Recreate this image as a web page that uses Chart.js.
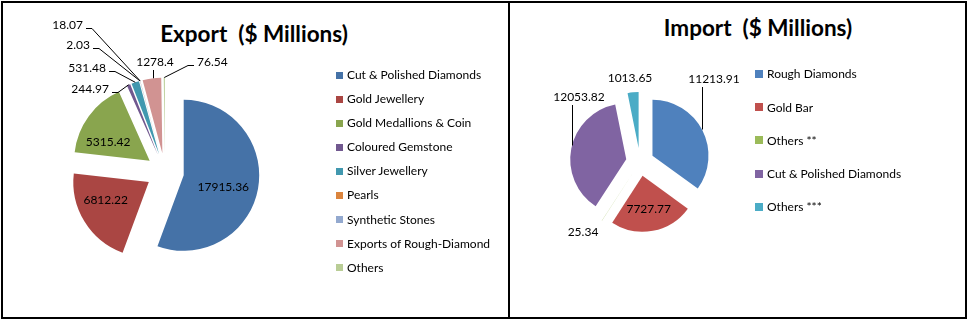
<!DOCTYPE html>
<html>
<head>
<meta charset="utf-8">
<script src="https://cdn.jsdelivr.net/npm/chart.js@4.4.0/dist/chart.umd.min.js"></script>
<style>
  body { margin: 0; width: 969px; height: 322px; position: relative; background: #fff; overflow: hidden;
         font-family: Lato, "Open Sans", sans-serif; color: #000; }
  .panel { position: absolute; top: 1px; height: 318px; border: 2px solid #000; box-sizing: border-box; }
  .wrap { position: absolute; top: 0; height: 320px; }
  .title { position: absolute; font-size: 22.5px; font-weight: bold; white-space: pre; transform: translate(-50%, -50%); }
  .legend { position: absolute; font-size: 12px; }
  .legend .item { display: flex; align-items: center; white-space: pre; }
  .legend .sw { display: inline-block; margin-right: 4px; }
</style>
</head>
<body>
<div class="panel" style="left:1px; width:509px;"></div>
<div class="panel" style="left:508px; width:459px;"></div>

<div class="title" style="left:254px; top:33px;">Export  ($ Millions)</div>
<div class="title" style="left:758px; top:27px;">Import  ($ Millions)</div>

<div class="wrap" style="left:0; width:509px;"><canvas id="export-pie"></canvas></div>
<div class="wrap" style="left:509px; width:458px;"><canvas id="import-pie"></canvas></div>

<div class="legend" id="export-legend" style="left:336px; top:63px; line-height:24.1px;"></div>
<div class="legend" id="import-legend" style="left:755px; top:57.4px; line-height:33.2px;"></div>

<script>
// --- DATA ---
const exportLabels = [
  "Cut & Polished Diamonds", "Gold Jewellery", "Gold Medallions & Coin", "Coloured Gemstone",
  "Silver Jewellery", "Pearls", "Synthetic Stones", "Exports of Rough-Diamond", "Others"
];
const exportValues = [17915.36, 6812.22, 5315.42, 244.97, 531.48, 2.03, 18.07, 1278.4, 76.54];
const exportColors = ["#4572A7", "#AA4643", "#89A54E", "#71588F", "#4198AF", "#DB843D", "#93A9CF", "#D19392", "#B9CD96"];

const importLabels = ["Rough Diamonds", "Gold Bar", "Others **", "Cut & Polished Diamonds", "Others ***"];
const importValues = [11213.91, 7727.77, 25.34, 12053.82, 1013.65];
const importColors = ["#4F81BD", "#C0504D", "#9BBB59", "#8064A2", "#4BACC6"];

// --- LABEL PLACEMENT (canvas coords) ---
const exportPlacements = [
  { inside: true, dx: -5, dy: 4 },
  { inside: true, dx: -4.5, dy: -6 },
  { inside: true, dx: -5, dy: 8 },
  { x: 109, y: 89, align: "right", leader: "elbow" },
  { x: 106, y: 68, align: "right", leader: "elbow" },
  { x: 90, y: 45, align: "right", leader: "elbow" },
  { x: 83, y: 25, align: "right", leader: "elbow" },
  { x: 155, y: 62, align: "center", leader: "vertical", lineX: 153 },
  { x: 197, y: 62, align: "left", leader: "elbow" }
];
const importPlacements = [
  { x: 205, y: 79, align: "center", leader: "vertical", lineX: 193 },
  { inside: true, dx: 0, dy: 0 },
  { x: 74, y: 232, align: "center" },
  { x: 70, y: 97, align: "center", leader: "vertical", lineX: 63 },
  { x: 121, y: 78, align: "center" }
];

// --- PLUGINS ---
// pulls every slice away from the pie centre along its mid angle
const explodePlugin = {
  id: "explode",
  beforeDatasetsDraw(chart, args, opts) {
    const { chartArea } = chart;
    const cx = (chartArea.left + chartArea.right) / 2;
    const cy = (chartArea.top + chartArea.bottom) / 2;
    chart.getDatasetMeta(0).data.forEach(arc => {
      const mid = (arc.startAngle + arc.endAngle) / 2;
      arc.x = cx + opts.distance * Math.cos(mid);
      arc.y = cy + opts.distance * Math.sin(mid);
    });
  }
};

// value labels, inside the big slices or outside with leader lines
const sliceLabelsPlugin = {
  id: "sliceLabels",
  afterDatasetsDraw(chart, args, opts) {
    const ctx = chart.ctx;
    const values = chart.data.datasets[0].data;
    ctx.save();
    ctx.font = "12px Lato";
    ctx.fillStyle = "#000";
    ctx.strokeStyle = "#000";
    ctx.lineWidth = 1;
    ctx.textBaseline = "middle";
    chart.getDatasetMeta(0).data.forEach((arc, i) => {
      const p = opts.placements[i];
      const mid = (arc.startAngle + arc.endAngle) / 2;
      const r = arc.outerRadius;
      const text = String(values[i]);
      if (p.inside) {
        ctx.textAlign = "center";
        ctx.fillText(text, arc.x + r * 0.6 * Math.cos(mid) + p.dx, arc.y + r * 0.6 * Math.sin(mid) + p.dy);
        return;
      }
      ctx.textAlign = p.align;
      ctx.fillText(text, p.x, p.y);
      if (p.leader === "elbow") {
        const dir = p.align === "right" ? 1 : -1;
        const ly = p.y + 3.5;
        ctx.beginPath();
        ctx.moveTo(p.x + dir * 3, ly);
        ctx.lineTo(p.x + dir * 9, ly);
        ctx.lineTo(arc.x + r * Math.cos(mid), arc.y + r * Math.sin(mid));
        ctx.stroke();
      } else if (p.leader === "vertical") {
        const dx = p.lineX - arc.x;
        const ey = arc.y - Math.sqrt(Math.max(r * r - dx * dx, 0));
        ctx.beginPath();
        ctx.moveTo(p.lineX + 0.5, p.y + 8);
        ctx.lineTo(p.lineX + 0.5, ey);
        ctx.stroke();
      }
    });
    ctx.restore();
  }
};

// --- CHARTS ---
function makePie(id, labels, values, colors, cfg) {
  return new Chart(document.getElementById(id), {
    type: "pie",
    data: { labels, datasets: [{ data: values, backgroundColor: colors, borderWidth: 0 }] },
    options: {
      responsive: true,
      maintainAspectRatio: false,
      animation: false,
      radius: cfg.radius,
      layout: { padding: cfg.padding },
      plugins: {
        legend: { display: false },
        tooltip: { enabled: false },
        explode: { distance: cfg.explode },
        sliceLabels: { placements: cfg.placements }
      }
    },
    plugins: [explodePlugin, sliceLabelsPlugin]
  });
}

function buildLegend(id, labels, colors, size) {
  document.getElementById(id).innerHTML = labels.map((l, i) =>
    `<div class="item"><span class="sw" style="width:${size}px;height:${size}px;background:${colors[i]}"></span>${l}</div>`
  ).join("");
}

makePie("export-pie", exportLabels, exportValues, exportColors, {
  radius: 75.5, explode: 19, placements: exportPlacements,
  padding: { left: 0, right: 179, top: 24, bottom: 0 }
});
makePie("import-pie", importLabels, importValues, importColors, {
  radius: 56, explode: 14, placements: importPlacements,
  padding: { left: 0, right: 196, top: 4, bottom: 0 }
});

buildLegend("export-legend", exportLabels, exportColors, 7);
buildLegend("import-legend", importLabels, importColors, 8);
</script>
</body>
</html>
